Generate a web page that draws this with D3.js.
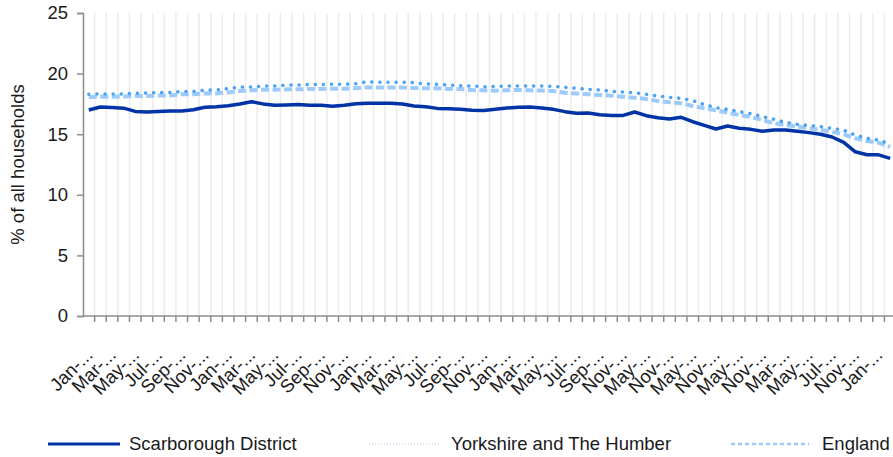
<!DOCTYPE html>
<html>
<head>
<meta charset="utf-8">
<script src="https://cdnjs.cloudflare.com/ajax/libs/d3/7.8.5/d3.min.js"></script>
<style>
    body { margin: 0; background: #fff; }
    text { font-family: "Liberation Sans", Arial, sans-serif; fill: #1a1a1a; }
</style>
</head>
<body>
<div id="chart-area"></div>
<script>
/*
*    main.js
*/

// Tick labels, shown on every second category
var tickLabels = ["Jan-...", "Mar-...", "May-...", "Jul-...", "Sep-...", "Nov-...",
    "Jan-...", "Mar-...", "May-...", "Jul-...", "Sep-...", "Nov-...",
    "Jan-...", "Mar-...", "May-...", "Jul-...", "Sep-...", "Nov-...",
    "Jan-...", "Mar-...", "May-...", "Jul-...", "Sep-...", "Nov-...",
    "May-...", "Nov-...", "May-...", "Nov-...", "May-...", "Nov-...",
    "Mar-...", "May-...", "Jul-...", "Nov-...", "Jan-..."];

var seriesNames = ["Scarborough District", "Yorkshire and The Humber", "England"];

var scarborough = [17.0, 17.24, 17.2, 17.15, 16.88, 16.83, 16.88, 16.92, 16.92, 17.02,
    17.22, 17.27, 17.35, 17.49, 17.68, 17.5, 17.38, 17.41, 17.46, 17.38,
    17.38, 17.3, 17.38, 17.52, 17.55, 17.55, 17.55, 17.49, 17.33, 17.27,
    17.13, 17.1, 17.05, 16.97, 16.96, 17.05, 17.16, 17.22, 17.24, 17.16,
    17.05, 16.86, 16.72, 16.75, 16.6, 16.55, 16.55, 16.83, 16.53, 16.36,
    16.25, 16.39, 16.03, 15.73, 15.43, 15.68, 15.49, 15.4, 15.24, 15.35,
    15.35, 15.24, 15.13, 15.0, 14.77, 14.33, 13.55, 13.3, 13.3, 13.0];

var yorkshire = [18.3, 18.32, 18.32, 18.32, 18.38, 18.4, 18.45, 18.45, 18.52, 18.53,
    18.63, 18.65, 18.76, 18.88, 18.9, 18.97, 18.98, 19.05, 19.06, 19.1,
    19.1, 19.12, 19.12, 19.17, 19.33, 19.28, 19.28, 19.3, 19.25, 19.14,
    19.13, 19.06, 19.0, 18.98, 18.92, 18.95, 18.97, 18.97, 18.98, 18.97,
    18.95, 18.87, 18.79, 18.7, 18.65, 18.53, 18.48, 18.42, 18.29, 18.15,
    18.04, 17.96, 17.77, 17.45, 17.19, 17.05, 16.86, 16.7, 16.45, 16.23,
    15.98, 15.81, 15.73, 15.62, 15.49, 15.32, 14.93, 14.66, 14.52, 14.2];

var england = [18.04, 18.1, 18.1, 18.12, 18.15, 18.15, 18.2, 18.2, 18.3, 18.3,
    18.36, 18.36, 18.45, 18.56, 18.62, 18.67, 18.67, 18.7, 18.7, 18.73,
    18.73, 18.76, 18.76, 18.79, 18.87, 18.85, 18.85, 18.86, 18.81, 18.79,
    18.79, 18.73, 18.73, 18.64, 18.62, 18.59, 18.62, 18.65, 18.62, 18.6,
    18.56, 18.42, 18.36, 18.29, 18.23, 18.18, 18.09, 18.01, 17.9, 17.74,
    17.63, 17.55, 17.33, 17.13, 16.97, 16.78, 16.58, 16.42, 16.17, 15.9,
    15.76, 15.62, 15.49, 15.35, 15.21, 14.99, 14.66, 14.44, 14.3, 13.95];

var yTicks = [0, 5, 10, 15, 20, 25];

var margin = { left:83, right:0, top:13, bottom:141 },
    width = 813,
    height = 457 - margin.top - margin.bottom;

var svg = d3.select("#chart-area")
    .append("svg")
    .attr("width", 893)
    .attr("height", 457);
var g = svg.append("g")
    .attr("transform", "translate(" + margin.left + ", " + margin.top + ")");

// Scales
var x = d3.scaleBand()
    .domain(d3.range(scarborough.length))
    .range([0, width]);
var y = d3.scaleLinear()
    .domain([0, 25])
    .range([height, 0]);

// Vertical gridlines on the category boundaries
g.selectAll(".grid")
    .data(d3.range(1, scarborough.length))
    .enter().append("line")
    .attr("class", "grid")
    .attr("x1", function(d){ return x(d); })
    .attr("x2", function(d){ return x(d); })
    .attr("y1", 0)
    .attr("y2", height)
    .attr("stroke", "#ececec")
    .attr("stroke-width", 1.6);

// Y-axis
var yAxisCall = d3.axisLeft(y)
    .tickValues(yTicks)
    .tickSize(6)
    .tickPadding(9);
var yAxis = g.append("g")
    .attr("class", "y axis")
    .call(yAxisCall);
yAxis.select(".domain").attr("stroke", "#8c8c8c").attr("stroke-width", 1.5);
yAxis.selectAll(".tick line").attr("stroke", "#8c8c8c").attr("stroke-width", 1.5);
yAxis.selectAll(".tick text")
    .attr("font-size", "18.5px")
    .style("fill", "#1a1a1a");

// X-axis
var xAxis = g.append("g")
    .attr("class", "x axis")
    .attr("transform", "translate(0," + height + ")");
xAxis.append("line")
    .attr("x1", 0)
    .attr("x2", width)
    .attr("stroke", "#8c8c8c")
    .attr("stroke-width", 1.5);
xAxis.selectAll(".xtick")
    .data(d3.range(1, scarborough.length))
    .enter().append("line")
    .attr("class", "xtick")
    .attr("x1", function(d){ return x(d); })
    .attr("x2", function(d){ return x(d); })
    .attr("y1", 0)
    .attr("y2", 6)
    .attr("stroke", "#8c8c8c")
    .attr("stroke-width", 1.5);
xAxis.selectAll(".xlabel")
    .data(tickLabels)
    .enter().append("text")
    .attr("class", "xlabel")
    .attr("text-anchor", "end")
    .attr("font-size", "18.5px")
    .attr("transform", function(d, i){
        var cx = x(i * 2) + x.bandwidth() / 2;
        return "translate(" + (cx + 5) + ",40) rotate(-45)";
    })
    .text(function(d){ return d; });

// Y label
g.append("text")
    .attr("class", "y axisLabel")
    .attr("transform", "rotate(-90)")
    .attr("x", -height / 2)
    .attr("y", -59)
    .attr("font-size", "18.5px")
    .attr("text-anchor", "middle")
    .text("% of all households");

// Lines
var line = d3.line()
    .x(function(d, i){ return x(i) + x.bandwidth() / 2; })
    .y(function(d){ return y(d); });

g.append("path")
    .attr("d", line(england))
    .attr("fill", "none")
    .attr("stroke", "#9dcbfb")
    .attr("stroke-width", 4)
    .attr("stroke-dasharray", "8 3.5");

g.append("path")
    .attr("d", line(yorkshire))
    .attr("fill", "none")
    .attr("stroke", "#4aa3f5")
    .attr("stroke-width", 3.5)
    .attr("stroke-linecap", "round")
    .attr("stroke-dasharray", "0.1 8");

g.append("path")
    .attr("d", line(scarborough))
    .attr("fill", "none")
    .attr("stroke", "#0033a6")
    .attr("stroke-width", 3.5)
    .attr("stroke-linejoin", "round");

// Legend
var legendItems = [
    { x: 48, len: 72, stroke: "#0033a6", width: 3, dash: null, tx: 129 },
    { x: 369, len: 72, stroke: "#cfe4fa", width: 1.5, dash: "1 2", tx: 451 },
    { x: 731, len: 78, stroke: "#9dcbfb", width: 2.5, dash: "4 3", tx: 822 }
];
var legend = svg.append("g").attr("class", "legend");
legendItems.forEach(function(item, i){
    legend.append("line")
        .attr("x1", item.x)
        .attr("x2", item.x + item.len)
        .attr("y1", 444)
        .attr("y2", 444)
        .attr("stroke", item.stroke)
        .attr("stroke-width", item.width)
        .attr("stroke-dasharray", item.dash);
    legend.append("text")
        .attr("x", item.tx)
        .attr("y", 444)
        .attr("dy", "0.35em")
        .attr("font-size", "18.5px")
        .text(seriesNames[i]);
});
</script>
</body>
</html>
